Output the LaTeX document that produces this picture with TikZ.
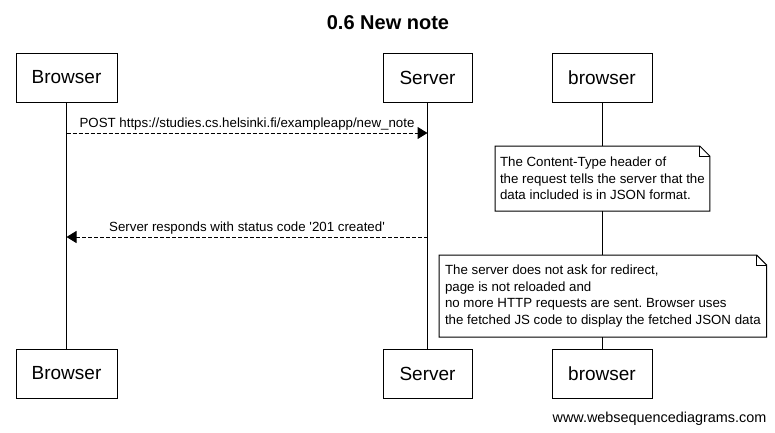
\documentclass[tikz,border=0pt]{standalone}
\usepackage{fontspec}
\setmainfont{Liberation Sans}
\frenchspacing
\usetikzlibrary{arrows.meta,backgrounds}
\tikzset{
  actor/.style = {draw = black, line width = 1pt, minimum height = 49pt, inner xsep = 0pt, outer sep = 0pt, font = \fontsize{19}{22}\selectfont},
  msg/.style = {line width = 1pt, dash pattern = on 4pt off 2pt, -{Triangle[length = 10pt, width = 12pt]}},
  msglabel/.style = {above, inner sep = 2pt, font = \fontsize{13.3}{16}\selectfont},
  notebox/.style = {fill = white, anchor = north west, align = left, outer sep = 0pt, font = \fontsize{13.3}{16.5}\selectfont},
  noteline/.style = {draw = black, line width = 1pt}
}
\begin{document}
\begin{tikzpicture}[x = 1pt, y = -1pt]
\useasboundingbox (0,0) rectangle (775,432);
\node[font = \fontsize{20}{24}\selectfont\bfseries] (title) at (388,23) {0.6 New note};
\foreach \n/\x/\w/\t in {b/66.5/101/Browser, s/427.5/89/Server, c/602/100/browser} {
  \node[actor, minimum width = \w pt] (top\n) at (\x,77.5) {\t};
  \node[actor, minimum width = \w pt] (bot\n) at (\x,373.5) {\t};
}
\begin{pgfonlayer}{background}
\foreach \n in {b,s,c} \draw[line width = 1pt] (top\n) -- (bot\n);
\end{pgfonlayer}
\coordinate (post1) at (topb |- 0,133);
\coordinate (post2) at (tops |- 0,133);
\draw[msg] (post1) -- (post2) node[midway, msglabel] {POST https://studies.cs.helsinki.fi/exampleapp/new\_note};
\node[notebox, inner xsep = 5pt, minimum width = 214pt, minimum height = 65pt] (note1) at (495,146) {The Content-Type header of\\the request tells the server that the\\data included is in JSON format.};
\draw[noteline] (note1.north west) -- ([xshift = -10pt]note1.north east) -- ([yshift = -10pt]note1.north east) -- (note1.south east) -- (note1.south west) -- cycle;
\draw[noteline] ([xshift = -10pt]note1.north east) -- ([xshift = -10pt, yshift = -10pt]note1.north east) -- ([yshift = -10pt]note1.north east);
\coordinate (resp1) at (tops |- 0,237);
\coordinate (resp2) at (topb |- 0,237);
\draw[msg] (resp1) -- (resp2) node[midway, msglabel] {Server responds with status code \textquotesingle 201 created\textquotesingle};
\node[notebox, inner xsep = 6pt, minimum width = 326pt, minimum height = 82pt] (note2) at (439,255) {The server does not ask for redirect,\\page is not reloaded and\\no more HTTP requests are sent. Browser uses\\the fetched JS code to display the fetched JSON data};
\draw[noteline] (note2.north west) -- ([xshift = -10pt]note2.north east) -- ([yshift = -10pt]note2.north east) -- (note2.south east) -- (note2.south west) -- cycle;
\draw[noteline] ([xshift = -10pt]note2.north east) -- ([xshift = -10pt, yshift = -10pt]note2.north east) -- ([yshift = -10pt]note2.north east);
\node[font = \fontsize{14.4}{17}\selectfont] (credit) at (659.5,419) {www.websequencediagrams.com};
\end{tikzpicture}
\end{document}
